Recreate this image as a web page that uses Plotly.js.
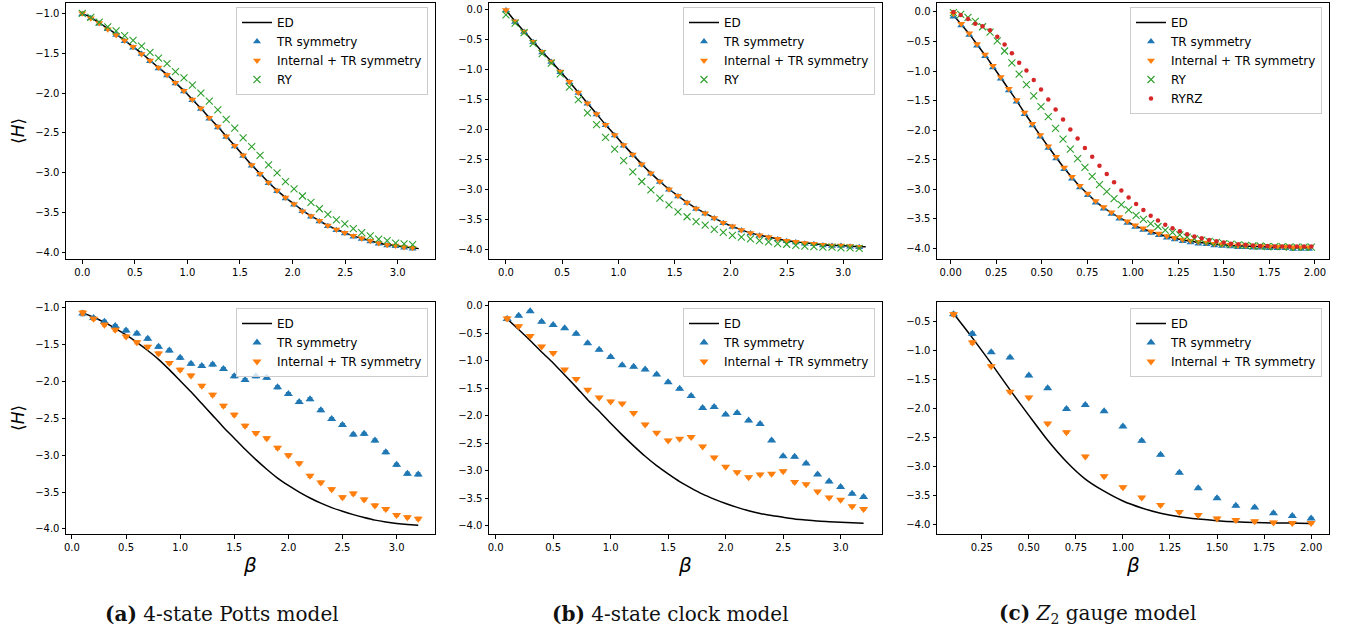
<!DOCTYPE html>
<html><head><meta charset="utf-8">
<script src="https://cdn.plot.ly/plotly-3.0.1.min.js"></script>
<style>html,body{margin:0;padding:0;background:#fff}#chart{width:1353px;height:635px}</style>
</head><body><div id="chart"></div>
<script>
// ---------- (a) 4-state Potts, top ----------
const betaTopAB = [0,0.081,0.161,0.242,0.322,0.403,0.483,0.564,0.644,0.725,0.806,0.886,0.967,1.047,1.128,1.208,1.289,1.369,1.45,1.53,1.611,1.691,1.772,1.853,1.933,2.014,2.094,2.175,2.255,2.336,2.417,2.497,2.578,2.658,2.739,2.819,2.9,2.98,3.061,3.142];
const betaEdTopAB = [0,0.081,0.161,0.242,0.322,0.403,0.483,0.564,0.644,0.725,0.806,0.886,0.967,1.047,1.128,1.208,1.289,1.369,1.45,1.53,1.611,1.691,1.772,1.853,1.933,2.014,2.094,2.175,2.255,2.336,2.417,2.497,2.578,2.658,2.739,2.819,2.9,2.98,3.061,3.142,3.2];
const edPottsTop = [-1.00,-1.05,-1.12,-1.19,-1.26,-1.34,-1.42,-1.50,-1.59,-1.68,-1.77,-1.87,-1.97,-2.08,-2.19,-2.31,-2.42,-2.54,-2.66,-2.78,-2.90,-3.01,-3.12,-3.22,-3.31,-3.39,-3.47,-3.54,-3.60,-3.66,-3.71,-3.75,-3.79,-3.82,-3.85,-3.88,-3.90,-3.91,-3.93,-3.94,-3.95];
const trPottsTop = [-1.01,-1.06,-1.13,-1.20,-1.27,-1.35,-1.43,-1.51,-1.60,-1.69,-1.78,-1.88,-1.98,-2.09,-2.20,-2.32,-2.43,-2.55,-2.67,-2.79,-2.91,-3.02,-3.13,-3.23,-3.32,-3.40,-3.48,-3.55,-3.61,-3.67,-3.72,-3.76,-3.80,-3.83,-3.86,-3.89,-3.91,-3.92,-3.94,-3.95];
const intPottsTop = [-1.00,-1.06,-1.12,-1.20,-1.27,-1.34,-1.42,-1.51,-1.59,-1.68,-1.77,-1.87,-1.97,-2.08,-2.19,-2.31,-2.42,-2.54,-2.66,-2.78,-2.90,-3.01,-3.12,-3.22,-3.31,-3.39,-3.48,-3.54,-3.60,-3.66,-3.71,-3.75,-3.79,-3.82,-3.85,-3.88,-3.90,-3.91,-3.93,-3.94];
const ryPottsTop = [-1.00,-1.05,-1.11,-1.17,-1.22,-1.28,-1.34,-1.41,-1.49,-1.56,-1.63,-1.73,-1.81,-1.90,-2.00,-2.10,-2.21,-2.33,-2.44,-2.56,-2.67,-2.78,-2.90,-3.00,-3.11,-3.20,-3.29,-3.37,-3.45,-3.52,-3.59,-3.64,-3.70,-3.75,-3.79,-3.83,-3.85,-3.88,-3.89,-3.90];

// ---------- (b) 4-state clock, top ----------
const edClockTop = [0.00,-0.19,-0.36,-0.53,-0.70,-0.86,-1.03,-1.20,-1.38,-1.56,-1.74,-1.92,-2.09,-2.26,-2.42,-2.58,-2.73,-2.87,-3.00,-3.11,-3.22,-3.32,-3.40,-3.48,-3.56,-3.62,-3.68,-3.73,-3.77,-3.80,-3.83,-3.86,-3.88,-3.90,-3.91,-3.93,-3.94,-3.94,-3.95,-3.96,-3.96];
const trClockTop = [-0.01,-0.20,-0.37,-0.54,-0.71,-0.87,-1.04,-1.21,-1.39,-1.57,-1.75,-1.93,-2.10,-2.27,-2.43,-2.59,-2.74,-2.88,-3.01,-3.12,-3.23,-3.33,-3.41,-3.49,-3.57,-3.63,-3.69,-3.74,-3.78,-3.81,-3.84,-3.87,-3.89,-3.91,-3.92,-3.94,-3.95,-3.95,-3.96,-3.97];
const intClockTop = [0.00,-0.19,-0.36,-0.53,-0.70,-0.86,-1.03,-1.20,-1.38,-1.56,-1.74,-1.92,-2.09,-2.26,-2.42,-2.58,-2.73,-2.87,-3.00,-3.11,-3.22,-3.32,-3.40,-3.48,-3.56,-3.62,-3.68,-3.73,-3.77,-3.80,-3.83,-3.86,-3.88,-3.90,-3.91,-3.93,-3.94,-3.94,-3.95,-3.96];
const ryClockTop = [-0.08,-0.22,-0.38,-0.56,-0.73,-0.89,-1.07,-1.29,-1.50,-1.72,-1.92,-2.13,-2.33,-2.52,-2.71,-2.87,-3.01,-3.15,-3.26,-3.38,-3.46,-3.54,-3.60,-3.67,-3.72,-3.77,-3.80,-3.83,-3.86,-3.88,-3.91,-3.92,-3.94,-3.95,-3.96,-3.97,-3.97,-3.98,-3.98,-3.99];

// ---------- (c) Z2 gauge, top ----------
const betaTopC = [0.015,0.058,0.102,0.145,0.189,0.232,0.275,0.319,0.362,0.406,0.449,0.492,0.536,0.579,0.623,0.666,0.709,0.753,0.796,0.840,0.883,0.926,0.970,1.013,1.057,1.100,1.143,1.187,1.230,1.274,1.317,1.360,1.404,1.447,1.490,1.534,1.577,1.620,1.664,1.707,1.750,1.794,1.837,1.880,1.924,1.967];
const edGaugeTop = [-0.05,-0.21,-0.37,-0.55,-0.73,-0.92,-1.11,-1.31,-1.50,-1.71,-1.90,-2.09,-2.28,-2.46,-2.64,-2.80,-2.95,-3.08,-3.21,-3.31,-3.40,-3.48,-3.55,-3.62,-3.67,-3.72,-3.76,-3.80,-3.83,-3.86,-3.88,-3.90,-3.91,-3.93,-3.94,-3.95,-3.96,-3.96,-3.97,-3.97,-3.98,-3.98,-3.98,-3.99,-3.99,-3.99];
const trGaugeTop = [-0.08,-0.23,-0.39,-0.57,-0.75,-0.94,-1.13,-1.33,-1.52,-1.73,-1.92,-2.11,-2.30,-2.48,-2.66,-2.82,-2.97,-3.10,-3.23,-3.33,-3.42,-3.50,-3.57,-3.64,-3.69,-3.74,-3.78,-3.82,-3.85,-3.88,-3.90,-3.92,-3.93,-3.95,-3.96,-3.97,-3.98,-3.98,-3.99,-3.99,-4.00,-4.00,-4.00,-4.01,-4.01,-4.01];
const intGaugeTop = [-0.03,-0.20,-0.36,-0.54,-0.72,-0.91,-1.10,-1.30,-1.49,-1.70,-1.89,-2.08,-2.27,-2.45,-2.63,-2.79,-2.94,-3.07,-3.20,-3.30,-3.39,-3.47,-3.54,-3.61,-3.66,-3.71,-3.75,-3.79,-3.82,-3.85,-3.87,-3.89,-3.90,-3.92,-3.93,-3.94,-3.95,-3.95,-3.96,-3.96,-3.97,-3.97,-3.97,-3.98,-3.98,-3.98];
const betaTopCvar = [0.015,0.055,0.095,0.135,0.175,0.216,0.256,0.296,0.336,0.376,0.416,0.456,0.496,0.536,0.576,0.617,0.657,0.697,0.737,0.777,0.817,0.857,0.897,0.937,0.977,1.018,1.058,1.098,1.138,1.178,1.218,1.258,1.298,1.338,1.378,1.419,1.459,1.499,1.539,1.579,1.619,1.659,1.699,1.739,1.779,1.820,1.860,1.900,1.940,1.980];
const ryGaugeTop = [-0.01,-0.04,-0.09,-0.16,-0.25,-0.34,-0.49,-0.66,-0.86,-1.05,-1.23,-1.42,-1.60,-1.77,-1.97,-2.15,-2.32,-2.48,-2.63,-2.78,-2.92,-3.04,-3.16,-3.26,-3.35,-3.44,-3.51,-3.58,-3.63,-3.69,-3.73,-3.77,-3.81,-3.84,-3.86,-3.88,-3.90,-3.92,-3.93,-3.94,-3.95,-3.96,-3.96,-3.97,-3.97,-3.97,-3.98,-3.98,-3.98,-3.98];
const ryrzGaugeTop = [0.00,-0.05,-0.12,-0.20,-0.24,-0.31,-0.42,-0.55,-0.70,-0.86,-0.99,-1.15,-1.31,-1.48,-1.65,-1.82,-1.99,-2.14,-2.30,-2.45,-2.60,-2.74,-2.88,-3.02,-3.14,-3.25,-3.35,-3.45,-3.53,-3.60,-3.66,-3.71,-3.76,-3.80,-3.83,-3.86,-3.88,-3.90,-3.92,-3.93,-3.94,-3.95,-3.96,-3.96,-3.97,-3.97,-3.97,-3.97,-3.97,-3.97];

// ---------- bottom row (hardware runs, with error bars) ----------
const betaBotAB = [0.1,0.2,0.3,0.4,0.5,0.6,0.7,0.8,0.9,1.0,1.1,1.2,1.3,1.4,1.5,1.6,1.7,1.8,1.9,2.0,2.1,2.2,2.3,2.4,2.5,2.6,2.7,2.8,2.9,3.0,3.1,3.2];
const edPottsBot = [-1.07,-1.13,-1.20,-1.28,-1.37,-1.47,-1.58,-1.70,-1.84,-1.99,-2.14,-2.30,-2.46,-2.62,-2.77,-2.92,-3.06,-3.19,-3.31,-3.41,-3.50,-3.58,-3.65,-3.71,-3.76,-3.805,-3.845,-3.88,-3.905,-3.925,-3.94,-3.95];
const trPottsBot = [-1.08,-1.14,-1.19,-1.25,-1.31,-1.35,-1.42,-1.53,-1.58,-1.68,-1.76,-1.79,-1.77,-1.83,-1.93,-1.98,-1.93,-1.95,-2.08,-2.17,-2.28,-2.24,-2.39,-2.51,-2.59,-2.72,-2.71,-2.80,-2.96,-3.13,-3.25,-3.26];
const intPottsBot = [-1.07,-1.15,-1.23,-1.30,-1.39,-1.47,-1.53,-1.62,-1.75,-1.84,-1.92,-2.06,-2.18,-2.33,-2.45,-2.60,-2.70,-2.77,-2.90,-3.00,-3.11,-3.28,-3.37,-3.46,-3.57,-3.52,-3.60,-3.68,-3.73,-3.81,-3.84,-3.86];
const edClockBot = [-0.24,-0.43,-0.63,-0.84,-1.04,-1.26,-1.48,-1.71,-1.92,-2.14,-2.35,-2.55,-2.74,-2.91,-3.06,-3.20,-3.32,-3.43,-3.52,-3.60,-3.67,-3.73,-3.78,-3.82,-3.85,-3.88,-3.90,-3.92,-3.93,-3.94,-3.95,-3.96];
const trClockBot = [-0.24,-0.18,-0.10,-0.29,-0.35,-0.41,-0.51,-0.68,-0.80,-0.93,-1.08,-1.11,-1.16,-1.25,-1.39,-1.51,-1.64,-1.86,-1.84,-1.98,-1.95,-2.09,-2.15,-2.45,-2.74,-2.75,-2.87,-3.07,-3.20,-3.30,-3.42,-3.48];
const intClockBot = [-0.23,-0.37,-0.55,-0.74,-0.86,-1.16,-1.33,-1.53,-1.67,-1.74,-1.78,-1.95,-2.16,-2.31,-2.45,-2.42,-2.39,-2.56,-2.76,-2.93,-3.03,-3.12,-3.07,-3.06,-3.01,-3.21,-3.25,-3.38,-3.49,-3.53,-3.65,-3.70];
const betaBotC = [0.1,0.2,0.3,0.4,0.5,0.6,0.7,0.8,0.9,1.0,1.1,1.2,1.3,1.4,1.5,1.6,1.7,1.8,1.9,2.0];
const edGaugeBot = [-0.36,-0.78,-1.22,-1.68,-2.12,-2.55,-2.92,-3.22,-3.43,-3.60,-3.72,-3.81,-3.87,-3.91,-3.94,-3.96,-3.97,-3.98,-3.98,-3.99];
const trGaugeBot = [-0.37,-0.71,-1.03,-1.12,-1.43,-1.65,-2.01,-1.94,-2.05,-2.31,-2.56,-2.80,-3.11,-3.38,-3.55,-3.68,-3.71,-3.81,-3.86,-3.90];
const intGaugeBot = [-0.37,-0.86,-1.27,-1.71,-1.81,-2.26,-2.41,-2.83,-3.17,-3.36,-3.54,-3.67,-3.79,-3.84,-3.90,-3.93,-3.95,-3.97,-3.98,-3.98];
const errBotAB = [0.03,0.02,0.02,0.02,0.02,0.02,0.02,0.02,0.02,0.02,0.02,0.02,0.02,0.02,0.02,0.02,0.02,0.02,0.02,0.02,0.02,0.02,0.02,0.02,0.02,0.02,0.02,0.02,0.02,0.02,0.02,0.02];
const errBotC = [0.03,0.03,0.02,0.02,0.02,0.02,0.02,0.02,0.02,0.02,0.02,0.02,0.02,0.02,0.02,0.02,0.02,0.02,0.02,0.02];

const legendNames = ['ED','TR symmetry','Internal + TR symmetry','RY','RYRZ'];
const captionLetters = ['(a)','(b)','(c)'];
const captionTexts = ['4-state Potts model','4-state clock model','<i>Z</i><sub>2</sub> gauge model'];

// ---------- styling ----------
const BLUE='#1f77b4', ORANGE='#ff7f0e', GREEN='#2ca02c', RED='#d62728';
const W=1353, H=635;
const colPx=[[66,435],[489,882],[937,1329]];
const rowPx=[[3,259],[302,534]];
const xd=c=>[colPx[c][0]/W, colPx[c][1]/W];
const yd=r=>[1-rowPx[r][1]/H, 1-rowPx[r][0]/H];

const traces=[];
function ed(x,y,ax,lg){traces.push({x:x,y:y,xaxis:'x'+ax,yaxis:'y'+ax,legend:lg,type:'scatter',mode:'lines',name:legendNames[0],line:{color:'#000',width:1.5,shape:'spline',smoothing:0.6}});}
function mk(x,y,ax,lg,idx,sym,col,size,err){
  const t={x:x,y:y,xaxis:'x'+ax,yaxis:'y'+ax,legend:lg,type:'scatter',mode:'markers',name:legendNames[idx],
    marker:{symbol:sym,color:col,size:size}};
  if(sym==='x-thin'){t.marker.line={color:col,width:1.1};}
  if(err){t.error_y={type:'data',array:err,visible:true,color:col,thickness:1,width:2.5};}
  traces.push(t);
}
// top row
ed(betaEdTopAB,edPottsTop,'','legend');
mk(betaTopAB,trPottsTop,'','legend',1,'triangle-up',BLUE,7);
mk(betaTopAB,intPottsTop,'','legend',2,'triangle-down',ORANGE,7);
mk(betaTopAB,ryPottsTop,'','legend',3,'x-thin',GREEN,7);

ed(betaEdTopAB,edClockTop,'2','legend2');
mk(betaTopAB,trClockTop,'2','legend2',1,'triangle-up',BLUE,7);
mk(betaTopAB,intClockTop,'2','legend2',2,'triangle-down',ORANGE,7);
mk(betaTopAB,ryClockTop,'2','legend2',3,'x-thin',GREEN,7);

ed(betaTopC,edGaugeTop,'3','legend3');
mk(betaTopC,trGaugeTop,'3','legend3',1,'triangle-up',BLUE,7);
mk(betaTopC,intGaugeTop,'3','legend3',2,'triangle-down',ORANGE,7);
mk(betaTopCvar,ryGaugeTop,'3','legend3',3,'x-thin',GREEN,7);
mk(betaTopCvar,ryrzGaugeTop,'3','legend3',4,'circle',RED,4.5);
// bottom row
ed(betaBotAB,edPottsBot,'4','legend4');
mk(betaBotAB,trPottsBot,'4','legend4',1,'triangle-up',BLUE,8,errBotAB);
mk(betaBotAB,intPottsBot,'4','legend4',2,'triangle-down',ORANGE,8,errBotAB);
ed(betaBotAB,edClockBot,'5','legend5');
mk(betaBotAB,trClockBot,'5','legend5',1,'triangle-up',BLUE,8,errBotAB);
mk(betaBotAB,intClockBot,'5','legend5',2,'triangle-down',ORANGE,8,errBotAB);
ed(betaBotC,edGaugeBot,'6','legend6');
mk(betaBotC,trGaugeBot,'6','legend6',1,'triangle-up',BLUE,8,errBotC);
mk(betaBotC,intGaugeBot,'6','legend6',2,'triangle-down',ORANGE,8,errBotC);

const tickFont={family:'DejaVu Sans',size:10,color:'#000'};
function axis(dom,range,dtick,fmt,anchor){
  return {domain:dom,range:range,dtick:dtick,tick0:0,tickformat:fmt,anchor:anchor,
    showline:true,mirror:true,linecolor:'#000',linewidth:1,ticks:'outside',ticklen:3.5,tickwidth:1,tickcolor:'#000',
    showgrid:false,zeroline:false,tickfont:tickFont,fixedrange:true};
}
const layout={width:W,height:H,margin:{l:0,r:0,t:0,b:0},paper_bgcolor:'#fff',plot_bgcolor:'#fff',showlegend:true,
  xaxis: axis(xd(0),[-0.155,3.355],0.5,'.1f','y'),   yaxis: axis(yd(0),[-4.08,-0.87],0.5,'.1f','x'),
  xaxis2:axis(xd(1),[-0.151,3.345],0.5,'.1f','y2'),  yaxis2:axis(yd(0),[-4.167,0.117],0.5,'.1f','x2'),
  xaxis3:axis(xd(2),[-0.075,2.077],0.25,'.2f','y3'), yaxis3:axis(yd(0),[-4.18,0.152],0.5,'.1f','x3'),
  xaxis4:axis(xd(0),[-0.055,3.355],0.5,'.1f','y4'),  yaxis4:axis(yd(1),[-4.068,-0.923],0.5,'.1f','x4'),
  xaxis5:axis(xd(1),[-0.058,3.36],0.5,'.1f','y5'),   yaxis5:axis(yd(1),[-4.155,0.07],0.5,'.1f','x5'),
  xaxis6:axis(xd(2),[0.012,2.095],0.25,'.2f','y6'),  yaxis6:axis(yd(1),[-4.17,-0.16],0.5,'.1f','x6'),
  annotations:[]
};
function leg(xr,yt){return {x:xr/W,y:1-yt/H,xanchor:'right',yanchor:'top',bgcolor:'rgba(255,255,255,0.8)',bordercolor:'#cccccc',borderwidth:1,
  font:{family:'DejaVu Sans',size:12,color:'#000'},tracegroupgap:0,itemwidth:30};}
layout.legend=leg(428,7); layout.legend2=leg(875,7); layout.legend3=leg(1322,7);
layout.legend4=leg(428,308); layout.legend5=leg(875,308); layout.legend6=leg(1322,308);

const A=layout.annotations;
[131,418].forEach(cy=>A.push({xref:'paper',yref:'paper',x:18/W,y:1-cy/H,xanchor:'center',yanchor:'middle',textangle:-90,showarrow:false,
  text:'⟨<i>H</i>⟩',font:{family:'DejaVu Sans',size:17,color:'#000'}}));
[250,685,1133].forEach(cx=>A.push({xref:'paper',yref:'paper',x:cx/W,y:1-565/H,xanchor:'center',yanchor:'middle',showarrow:false,
  text:'<i>β</i>',font:{family:'DejaVu Sans',size:20,color:'#000'}}));
[222,670,1097].forEach((cx,i)=>A.push({xref:'paper',yref:'paper',x:cx/W,y:1-614/H,xanchor:'center',yanchor:'middle',showarrow:false,
  text:'<b>'+captionLetters[i]+'</b> '+captionTexts[i],font:{family:'DejaVu Serif',size:20,color:'#111'}}));

Plotly.newPlot('chart',traces,layout,{staticPlot:true,displayModeBar:false});
</script></body></html>
